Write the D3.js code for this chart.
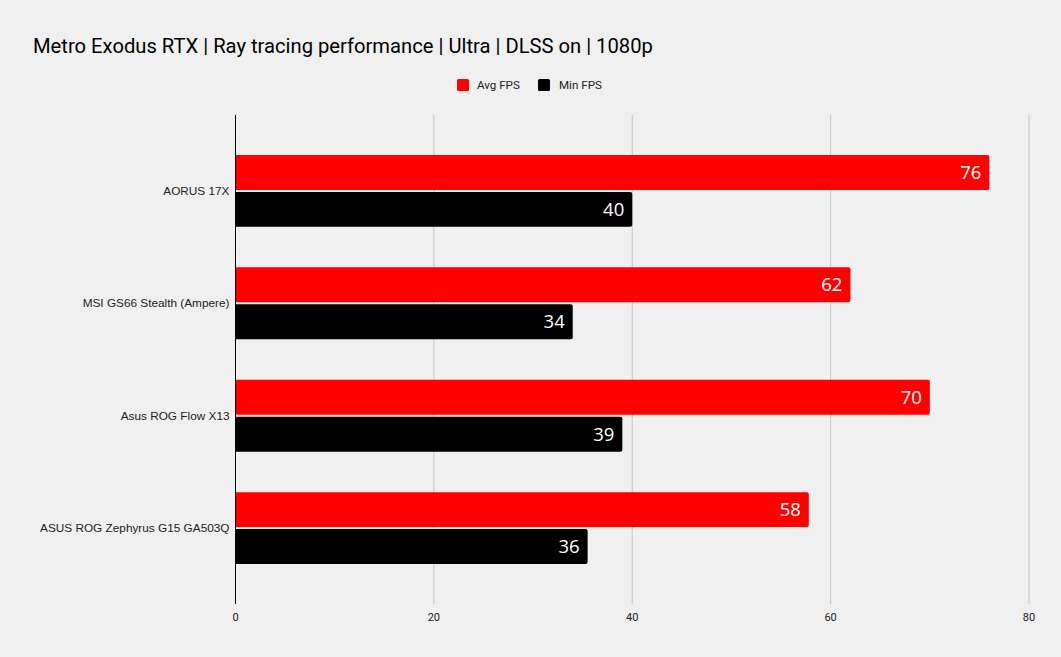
<!DOCTYPE html>
<html>
<head>
<meta charset="utf-8">
<script src="https://cdn.jsdelivr.net/npm/d3@7"></script>
<style>
  body { margin: 0; background: #f0f0f0; }
  svg { display: block; }
</style>
</head>
<body>
<svg id="chart"></svg>
<script>
const categories = ['AORUS 17X', 'MSI GS66 Stealth (Ampere)', 'Asus ROG Flow X13', 'ASUS ROG Zephyrus G15 GA503Q'];
const avgFps = [76, 62, 70, 57.8];
const minFps = [40, 34, 39, 35.5];
const seriesNames = ['Avg FPS', 'Min FPS'];
const seriesColors = ['#ff0000', '#000000'];
const xTicks = [0, 20, 40, 60, 80];

const width = 1061;
const height = 657;
const marginLeft = 235.5;
const marginRight = 32;
const marginTop = 115;
const marginBottom = 53;

const svg = d3.select('#chart')
  .attr('width', width)
  .attr('height', height)
  .style('background', '#f0f0f0');

// title
svg.append('text')
  .attr('x', 33)
  .attr('y', 53)
  .attr('font-family', 'Roboto, sans-serif')
  .attr('font-size', 20.2)
  .attr('fill', '#000')
  .text('Metro Exodus RTX | Ray tracing performance | Ultra | DLSS on | 1080p');

const x = d3.scaleLinear()
  .domain([0, 80])
  .range([marginLeft, width - marginRight]);

const y = d3.scaleBand()
  .domain(categories)
  .range([marginTop, height - marginBottom])
  .paddingInner(0.36)
  .paddingOuter(0.355);

const barGap = 2;
const barH = (y.bandwidth() - barGap) / 2;

// gridlines
svg.append('g')
  .selectAll('line')
  .data(xTicks.slice(1))
  .join('line')
  .attr('x1', d => x(d))
  .attr('x2', d => x(d))
  .attr('y1', marginTop)
  .attr('y2', height - marginBottom)
  .attr('stroke', '#c6c6c6')
  .attr('stroke-width', 1);

// x tick labels
svg.append('g')
  .selectAll('text')
  .data(xTicks)
  .join('text')
  .attr('x', d => x(d))
  .attr('y', height - marginBottom + 17)
  .attr('text-anchor', 'middle')
  .attr('font-family', 'Roboto, sans-serif')
  .attr('font-size', 11)
  .attr('fill', '#222')
  .text(d => d);

// bar with square left end and slightly rounded right end
function barPath(x0, x1, y0, h) {
  const r = Math.min(2, (x1 - x0) / 2);
  return `M${x0},${y0}H${x1 - r}Q${x1},${y0} ${x1},${y0 + r}` +
    `V${y0 + h - r}Q${x1},${y0 + h} ${x1 - r},${y0 + h}H${x0}Z`;
}

const rows = categories.map((c, i) => ({ cat: c, vals: [avgFps[i], minFps[i]] }));

const group = svg.append('g')
  .selectAll('g')
  .data(rows)
  .join('g')
  .attr('transform', d => `translate(0, ${y(d.cat)})`);

const bars = group.selectAll('g')
  .data(d => d.vals.map((v, j) => ({ v, j })))
  .join('g');

bars.append('path')
  .attr('d', d => barPath(x(0), x(d.v), d.j * (barH + barGap), barH))
  .attr('fill', d => seriesColors[d.j]);

bars.append('text')
  .attr('x', d => x(d.v) - 8)
  .attr('y', d => d.j * (barH + barGap) + barH / 2)
  .attr('dy', '0.36em')
  .attr('text-anchor', 'end')
  .attr('font-family', 'Open Sans, sans-serif')
  .attr('font-size', 18.5)
  .attr('fill', '#fff')
  .text(d => d3.format('.0f')(d.v));

// category labels
svg.append('g')
  .selectAll('text')
  .data(categories)
  .join('text')
  .attr('x', marginLeft - 6)
  .attr('y', d => y(d) + y.bandwidth() / 2)
  .attr('dy', '0.35em')
  .attr('text-anchor', 'end')
  .attr('font-family', 'Liberation Sans, Arial, sans-serif')
  .attr('font-size', 11.8)
  .attr('fill', '#222')
  .text(d => d);

// axis line
svg.append('line')
  .attr('x1', x(0))
  .attr('x2', x(0))
  .attr('y1', marginTop)
  .attr('y2', height - marginBottom)
  .attr('stroke', '#000')
  .attr('stroke-width', 1);

// legend
const legend = svg.append('g')
  .attr('transform', 'translate(457, 79)');

const legendX = [0, 81];
const item = legend.selectAll('g')
  .data(seriesNames)
  .join('g')
  .attr('transform', (d, i) => `translate(${legendX[i]}, 0)`);

item.append('rect')
  .attr('width', 12)
  .attr('height', 12)
  .attr('rx', 1.5)
  .attr('fill', (d, i) => seriesColors[i]);

item.append('text')
  .attr('x', (d, i) => i === 0 ? 20 : 21)
  .attr('y', 6)
  .attr('dy', '0.36em')
  .attr('font-family', 'Roboto, sans-serif')
  .attr('font-size', 11.6)
  .attr('fill', '#222')
  .text(d => d);
</script>
</body>
</html>
